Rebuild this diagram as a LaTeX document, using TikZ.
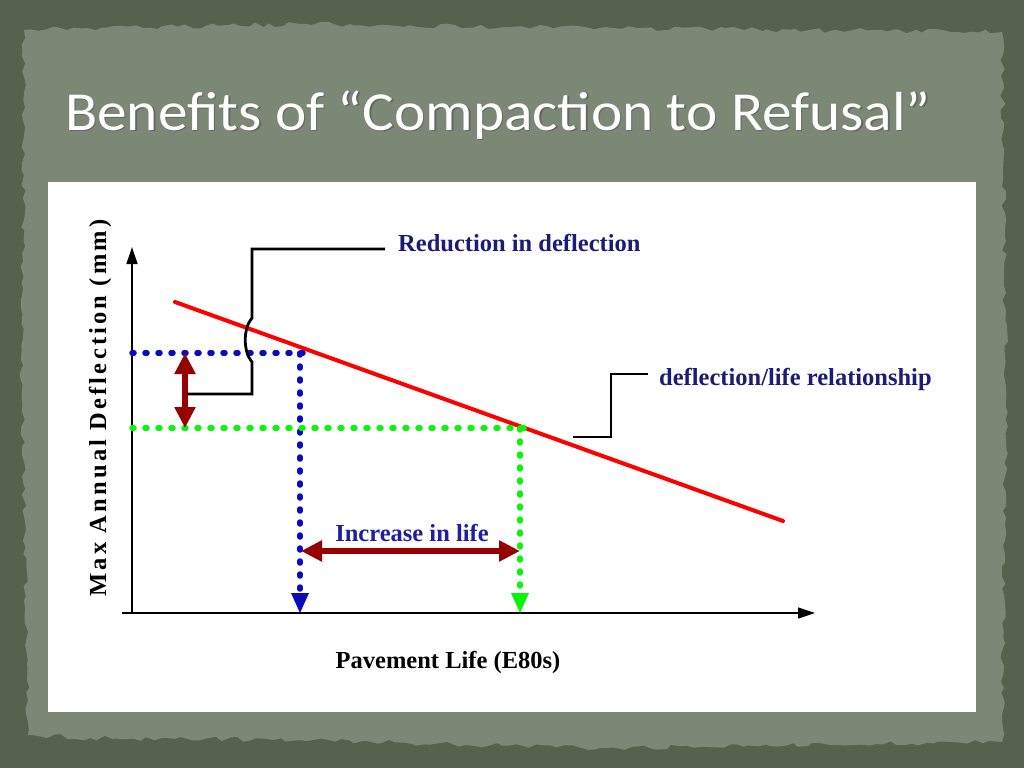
\documentclass[tikz,border=0pt]{standalone}
\usepackage{fontspec}
\setmainfont{Liberation Serif}
\newfontfamily\titlefont{Carlito}
\newfontfamily\spacedfont[LetterSpace=13]{Liberation Serif}
\usetikzlibrary{arrows.meta,decorations.pathmorphing,positioning,calc}
\definecolor{slatebg}{RGB}{86,98,78}
\definecolor{panelbg}{RGB}{125,135,117}
\definecolor{navytext}{RGB}{28,28,120}
\definecolor{bluetext}{RGB}{30,30,165}
\definecolor{darkred}{RGB}{150,0,0}
\definecolor{dotblue}{RGB}{10,10,190}
\definecolor{dotgreen}{RGB}{10,245,10}
\tikzset{
  label/.style={font=\bfseries\fontsize{24.5}{26}\selectfont, inner sep=0pt},
  titletext/.style={font=\titlefont\fontsize{55}{60}\selectfont, inner sep=0pt, xscale=1.08},
  dotline/.style={line width=5.5pt, line cap=round, dash pattern=on 2pt off 11pt},
  bracket/.style={line width=2.8pt},
  twoway/.style={darkred, line width=6pt, {Triangle[width=20pt,length=21pt]}-{Triangle[width=20pt,length=21pt]}},
}
\begin{document}
\begin{tikzpicture}[x=1pt,y=-1pt]
\useasboundingbox (0,0) rectangle (1024,768);
% slide background
\fill[slatebg] (0,0) rectangle (1024,768);
\pgfmathsetseed{7}
\fill[panelbg, decorate, decoration={random steps, segment length=7pt, amplitude=2.5pt}]
  (24,30) -- (300,24) -- (600,28) -- (1002,32) -- (1006,400) -- (1002,742)
  -- (600,748) -- (300,740) -- (90,738) -- (28,735) -- (22,400) -- cycle;
% title
\node[titletext, text=black!60] (titleshadow) at (499.5,116.5) {Benefits of “Compaction to Refusal”};
\node[titletext, text=white] (title) at (498,115) {Benefits of “Compaction to Refusal”};
% chart panel
\fill[white] (48,182) rectangle (976,712);
% axes
\coordinate (origin) at (132,613);
\coordinate (xstart) at (122,613);
\coordinate (xend) at (815,613);
\coordinate (yend) at (132,247);
\draw[line width=1.3pt, -{Triangle[width=11pt,length=17pt]}] (origin) -- (yend);
\draw[line width=1.3pt, -{Triangle[width=11pt,length=17pt]}] (xstart) -- (xend);
% deflection/life line
\coordinate (lifea) at (175,302);
\coordinate (lifeb) at (783,521);
\draw[red, line width=4pt, line cap=round] (lifea) -- (lifeb);
% before and after
\coordinate (blueleft) at (132,353);
\coordinate (blueright) at (310,353);
\coordinate (bluetop) at (300,353);
\coordinate (bluefoot) at (300,613);
\coordinate (greenleft) at (132,428);
\coordinate (greenright) at (528,428);
\coordinate (greentop) at (520,428);
\coordinate (greenfoot) at (520,613);
\draw[dotline, dotblue] (blueleft) -- (blueright);
\draw[dotline, dotblue] (bluetop) -- ($(bluefoot)+(0,-18)$);
\fill[dotblue] (bluefoot) -- (291,593) -- (309,593) -- cycle;
\draw[dotline, dotgreen] (greenleft) -- (greenright);
\draw[dotline, dotgreen] (greentop) -- ($(greenfoot)+(0,-18)$);
\fill[dotgreen] (greenfoot) -- (511,593) -- (529,593) -- cycle;
% differences
\coordinate (defltop) at (185,353);
\coordinate (deflbot) at (185,428);
\draw[twoway] (defltop) -- (deflbot);
\coordinate (lifel) at (301,551);
\coordinate (lifer) at (520,551);
\draw[twoway] (lifel) -- (lifer);
\node[label, text=bluetext] (increase) at (412,533) {Increase in life};
% callouts
\node[label, text=navytext, anchor=west] (reduction) at (398,243) {Reduction in deflection};
\draw[bracket] (385,249) -- (252,249) -- (252,318) .. controls (243,328) and (243,352) .. (252,362) -- (252,394) -- (187,394);
\node[label, text=navytext, anchor=west] (relation) at (659,379) {deflection/life relationship};
\draw[bracket] (573,437) -- (611,437) -- (611,374) -- (648,374);
% axis labels
\node[label] (xlabel) at (448,662) {Pavement Life (E80s)};
\node[label, font=\spacedfont\bfseries\fontsize{24.5}{26}\selectfont, rotate=90] (ylabel) at (100,408) {Max Annual Deflection (mm)};
\end{tikzpicture}
\end{document}
